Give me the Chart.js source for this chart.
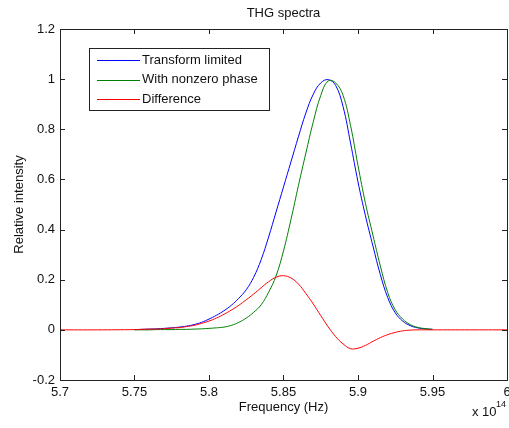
<!DOCTYPE html>
<html>
<head>
<meta charset="utf-8">
<script src="https://cdn.jsdelivr.net/npm/chart.js@4.4.1/dist/chart.umd.min.js"></script>
<style>
  html, body { margin:0; padding:0; background:#fff; }
  canvas { display:block; }
</style>
</head>
<body>
<canvas id="c" width="509" height="428"></canvas>
<script>
// frequency in units of 1e14 Hz
const freqMain = [5.75, 5.755, 5.76, 5.765, 5.77, 5.775, 5.78, 5.785, 5.79, 5.795,
  5.80, 5.805, 5.81, 5.815, 5.82, 5.825, 5.83, 5.835, 5.84, 5.845,
  5.85, 5.855, 5.86, 5.865, 5.87, 5.875, 5.88, 5.885, 5.89, 5.895,
  5.90, 5.905, 5.91, 5.915, 5.92, 5.925, 5.93, 5.935, 5.94, 5.945, 5.95];
const transformLimited = [0.001, 0.002, 0.003, 0.004, 0.006, 0.008, 0.011, 0.015, 0.021, 0.030,
  0.043, 0.058, 0.076, 0.098, 0.126, 0.160, 0.210, 0.280, 0.370, 0.470,
  0.570, 0.670, 0.770, 0.865, 0.940, 0.985, 0.998, 0.975, 0.890, 0.745,
  0.590, 0.455, 0.335, 0.220, 0.128, 0.068, 0.035, 0.017, 0.008, 0.004, 0.002];
const nonzeroPhase = [0.000, 0.000, 0.000, 0.001, 0.001, 0.001, 0.002, 0.002, 0.003, 0.004,
  0.006, 0.008, 0.011, 0.018, 0.030, 0.047, 0.070, 0.100, 0.150, 0.215,
  0.315, 0.440, 0.575, 0.705, 0.830, 0.935, 0.993, 0.985, 0.935, 0.815,
  0.655, 0.505, 0.378, 0.255, 0.148, 0.080, 0.043, 0.021, 0.010, 0.005, 0.002];
const freqDiff = [5.70, 5.725, 5.75, 5.755, 5.76, 5.765, 5.77, 5.775, 5.78, 5.785, 5.79, 5.795,
  5.80, 5.805, 5.81, 5.815, 5.82, 5.825, 5.83, 5.835, 5.84, 5.845,
  5.85, 5.855, 5.86, 5.865, 5.87, 5.875, 5.88, 5.885, 5.89, 5.895,
  5.90, 5.905, 5.91, 5.915, 5.92, 5.925, 5.93, 5.935, 5.94, 5.945, 5.95, 5.975, 6.00];
const difference = [0, 0, 0.001, 0.002, 0.003, 0.003, 0.005, 0.007, 0.009, 0.013, 0.018, 0.026,
  0.035, 0.047, 0.062, 0.079, 0.098, 0.120, 0.143, 0.168, 0.192, 0.210,
  0.216, 0.207, 0.183, 0.145, 0.103, 0.057, 0.012, -0.027, -0.056, -0.075,
  -0.073, -0.062, -0.046, -0.031, -0.019, -0.010, -0.004, -0.001, 0, 0, 0, 0, 0];
const seriesNames = ['Transform limited', 'With nonzero phase', 'Difference'];
const xTicks = { min: 5.7, max: 6.0, step: 0.05 };
const yTicks = { min: -0.2, max: 1.2, step: 0.2 };

const FONT = '13px "Liberation Sans", Arial, sans-serif';
const INK = '#111';
const pts = (xs, ys) => xs.map((x, i) => ({ x, y: ys[i] }));
const fmt = (v) => String(Number(v.toFixed(2)));

// matlab style box, inward ticks, labels and legend
const matlabFrame = {
  id: 'matlabFrame',
  afterDraw(chart) {
    const { ctx, chartArea: a, scales: { x, y } } = chart;
    ctx.save();
    ctx.strokeStyle = '#222';
    ctx.lineWidth = 1;
    ctx.strokeRect(a.left + 0.5, a.top + 0.5, a.right - a.left, a.bottom - a.top);
    ctx.beginPath();
    x.ticks.forEach(t => {
      const px = Math.round(x.getPixelForValue(t.value)) + 0.5;
      ctx.moveTo(px, a.bottom); ctx.lineTo(px, a.bottom - 5);
      ctx.moveTo(px, a.top); ctx.lineTo(px, a.top + 5);
    });
    y.ticks.forEach(t => {
      const py = Math.round(y.getPixelForValue(t.value)) + 0.5;
      ctx.moveTo(a.left, py); ctx.lineTo(a.left + 5, py);
      ctx.moveTo(a.right, py); ctx.lineTo(a.right - 5, py);
    });
    ctx.stroke();

    ctx.fillStyle = INK;
    ctx.font = FONT;
    ctx.textAlign = 'center';
    ctx.textBaseline = 'middle';
    const cx = (a.left + a.right) / 2;
    ctx.fillText('THG spectra', cx, 13);
    ctx.fillText('Frequency (Hz)', cx, 407);
    ctx.save();
    ctx.translate(19, (a.top + a.bottom) / 2);
    ctx.rotate(-Math.PI / 2);
    ctx.fillText('Relative intensity', 0, 0);
    ctx.restore();
    ctx.textAlign = 'left';
    ctx.fillText('x 10', 472, 412);
    ctx.font = '9px "Liberation Sans", Arial, sans-serif';
    ctx.fillText('14', 496, 405);

    // legend
    ctx.fillStyle = '#fff';
    ctx.fillRect(89.5, 48.5, 180, 62);
    ctx.strokeStyle = '#222';
    ctx.strokeRect(89.5, 48.5, 180, 62);
    ctx.font = FONT;
    chart.data.datasets.forEach((ds, i) => {
      const ly = 60 + i * 19.5;
      ctx.strokeStyle = ds.borderColor;
      ctx.beginPath();
      ctx.moveTo(97, Math.round(ly) + 0.5); ctx.lineTo(140, Math.round(ly) + 0.5);
      ctx.stroke();
      ctx.fillStyle = INK;
      ctx.fillText(ds.label, 142, ly);
    });
    ctx.restore();
  }
};

const line = (label, data, color, order) => ({
  label, data, borderColor: color, borderWidth: 1, pointRadius: 0,
  tension: 0.4, fill: false, order, showLine: true
});

new Chart(document.getElementById('c'), {
  type: 'scatter',
  data: {
    datasets: [
      line(seriesNames[0], pts(freqMain, transformLimited), '#0000ff', 3),
      line(seriesNames[1], pts(freqMain, nonzeroPhase), '#008000', 2),
      line(seriesNames[2], pts(freqDiff, difference), '#ff0000', 1)
    ]
  },
  options: {
    responsive: false,
    animation: false,
    events: [],
    layout: { padding: { left: 0, right: 2, top: 29, bottom: 0 } },
    plugins: { legend: { display: false }, tooltip: { enabled: false }, title: { display: false } },
    scales: {
      x: {
        type: 'linear', min: xTicks.min, max: xTicks.max,
        grid: { display: false, drawTicks: false }, border: { display: false },
        ticks: { stepSize: xTicks.step, padding: 5, color: INK, font: { family: '"Liberation Sans", Arial, sans-serif', size: 13 }, callback: fmt, maxRotation: 0, autoSkip: false },
        afterFit(s) { s.height = 48; s.paddingLeft = 0; s.paddingRight = 0; }
      },
      y: {
        type: 'linear', min: yTicks.min, max: yTicks.max,
        grid: { display: false, drawTicks: false }, border: { display: false },
        ticks: { stepSize: yTicks.step, padding: 5, color: INK, font: { family: '"Liberation Sans", Arial, sans-serif', size: 13 }, callback: fmt },
        afterFit(s) { s.width = 60; s.paddingTop = 0; s.paddingBottom = 0; }
      }
    }
  },
  plugins: [matlabFrame]
});
</script>
</body>
</html>
